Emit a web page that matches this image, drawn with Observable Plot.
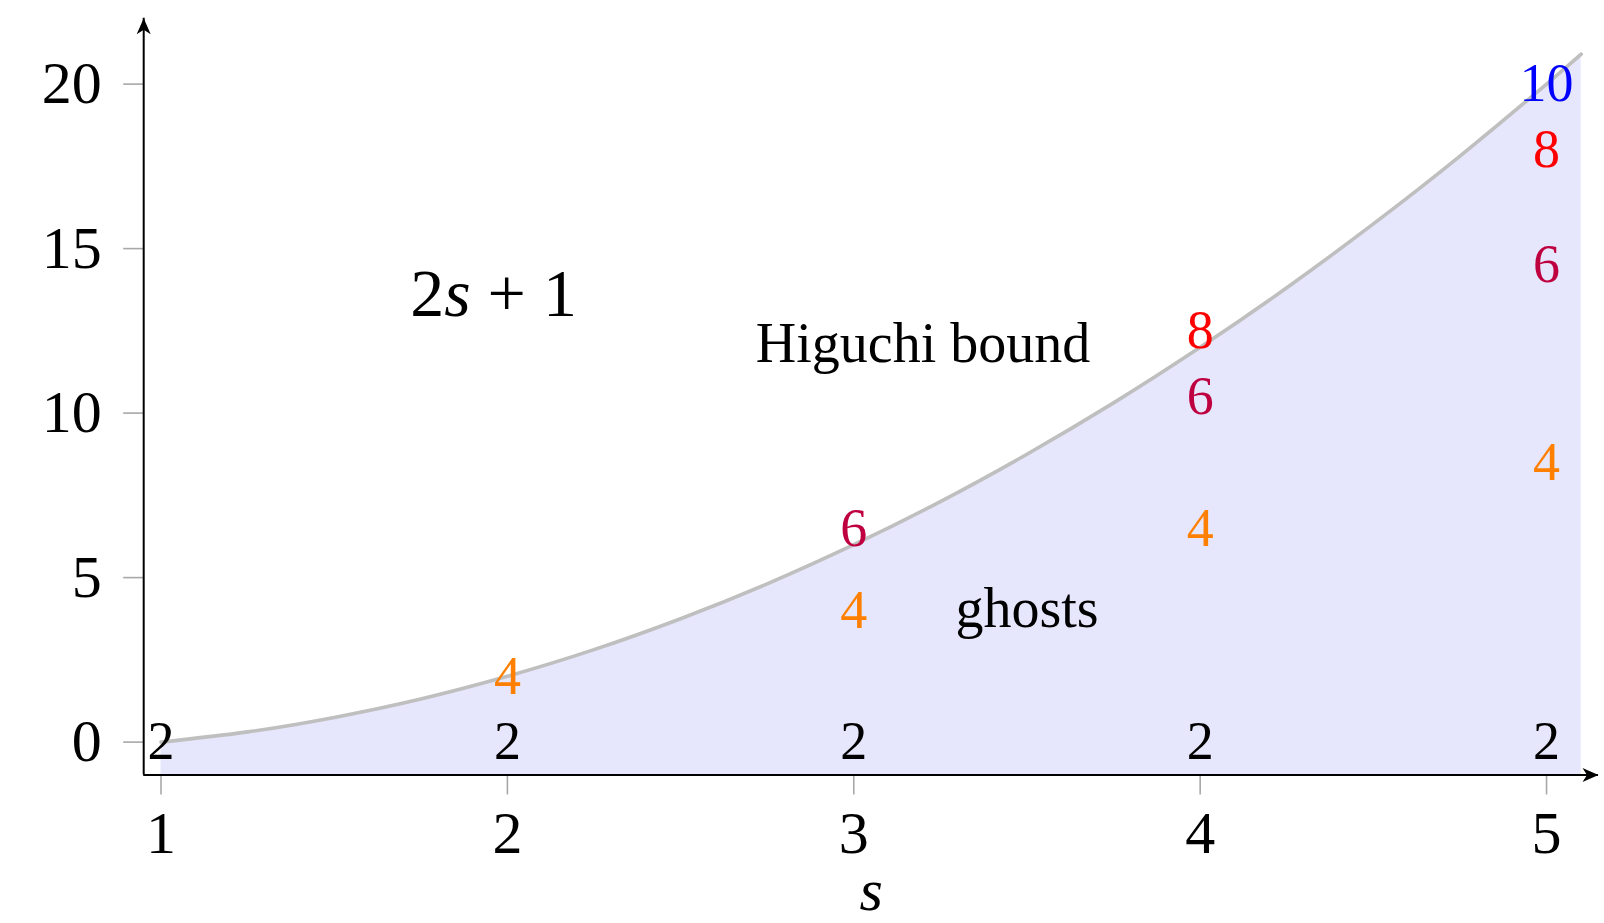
<!DOCTYPE html>
<html>
<head>
<meta charset="utf-8">
<script src="https://cdn.jsdelivr.net/npm/d3@7"></script>
<script src="https://cdn.jsdelivr.net/npm/@observablehq/plot@0.6"></script>
<style>
  html, body { margin: 0; padding: 0; background: white; overflow: hidden; }
  #chart svg { display: block; }
</style>
</head>
<body>
<div id="chart"></div>
<script>
// Axis extents (s from 0.95 to 5.15, mass from -1 to 22)
const xDomain = [0.95, 5.15];
const yDomain = [-1, 22];
const xTicks = [1, 2, 3, 4, 5];
const yTicks = [0, 5, 10, 15, 20];

// Higuchi bound curve, sampled along s
const boundS = [1, 1.25, 1.5, 1.75, 2, 2.25, 2.5, 2.75, 3, 3.25, 3.5, 3.75, 4, 4.25, 4.5, 4.75, 5, 5.1];
const boundV = [0, 0.31, 0.75, 1.31, 2, 2.81, 3.75, 4.81, 6, 7.31, 8.75, 10.31, 12, 13.81, 15.75, 17.81, 20, 20.91];

// Degree-of-freedom counts placed at each spin s
const countS = [1, 2, 3, 4, 5, 2, 3, 3, 4, 4, 4, 5, 5, 5, 5];
const countY = [0, 0, 0, 0, 0, 2, 6.5, 4, 12.5, 10.5, 6.5, 20, 18, 14.5, 8.5];
const countText = ["2", "2", "2", "2", "2", "4", "6", "4", "8", "6", "4", "10", "8", "6", "4"];
const countValues = ["2", "4", "6", "8", "10"];
const countColors = ["#000000", "#ff8000", "#bf0040", "#ff0000", "#0000ff"];

// Text annotations
const noteText = ["Higuchi bound", "ghosts"];
const noteS = [3.2, 3.5];
const noteY = [12.1, 4.05];
const formulaText = "2s + 1";
const formulaS = 1.96;
const formulaY = 13.6;

const bound = boundS.map((s, i) => ({s, v: boundV[i]}));
const counts = countS.map((s, i) => ({
  s, y: countY[i], label: countText[i],
  color: countColors[countValues.indexOf(countText[i])]
}));
const notes = noteText.map((t, i) => ({s: noteS[i], y: noteY[i], t}));

// Filled "stealth" arrowhead with its tip at the origin, pointing up
const stealth = {
  draw(context) {
    context.moveTo(0, 0);
    context.lineTo(7, 16);
    context.lineTo(0, 11.5);
    context.lineTo(-7, 16);
    context.closePath();
  }
};

const serif = "'Liberation Serif', 'Times New Roman', serif";

const chart = Plot.plot({
  width: 1604,
  height: 923,
  marginLeft: 143.2,
  marginRight: 6,
  marginTop: 17.8,
  marginBottom: 148.5,
  x: {domain: xDomain, label: null},
  y: {domain: yDomain, label: null},
  color: {type: "identity"},
  style: {fontFamily: serif, fontSize: "60px", background: "white", overflow: "visible"},
  marks: [
    Plot.areaY(bound, {x: "s", y1: yDomain[0], y2: "v", fill: "#e6e6fc", curve: "natural"}),
    Plot.line(bound, {x: "s", y: "v", stroke: "#bfbfbf", strokeWidth: 3.6, curve: "natural"}),
    Plot.axisX({ticks: xTicks, tickSize: 20, tickPadding: 15, stroke: "#a8a8a8", strokeWidth: 1.6,
                fill: "black", label: null, fontSize: 60, tickFormat: d => String(d)}),
    Plot.axisY({ticks: yTicks, tickSize: 20, tickPadding: 22, stroke: "#a8a8a8", strokeWidth: 1.6,
                fill: "black", label: null, fontSize: 60, tickFormat: d => String(d)}),
    Plot.ruleX([xDomain[0]], {stroke: "black", strokeWidth: 2}),
    Plot.ruleY([yDomain[0]], {stroke: "black", strokeWidth: 2}),
    Plot.dot([[xDomain[0], yDomain[1]]], {x: d => d[0], y: d => d[1], symbol: stealth, fill: "black", stroke: "none", r: 5}),
    Plot.dot([[xDomain[1], yDomain[0]]], {x: d => d[0], y: d => d[1], symbol: stealth, fill: "black", stroke: "none", r: 5, rotate: 90}),
    Plot.text(counts, {x: "s", y: "y", text: "label", fill: "color", fontSize: 54, lineAnchor: "middle"}),
    Plot.text(notes, {x: "s", y: "y", text: "t", fill: "black", fontSize: 56, lineAnchor: "middle"}),
    Plot.text([formulaText], {x: () => formulaS, y: () => formulaY, text: d => d, fill: "black", fontSize: 68, lineAnchor: "middle"}),
    Plot.text(["s"], {frameAnchor: "bottom", lineAnchor: "bottom", dy: 135, fill: "black", fontSize: 60, fontStyle: "italic"})
  ]
});

// Set the formula with an italic variable
d3.select(chart).selectAll("text").each(function () {
  if (this.textContent === formulaText) {
    const t = d3.select(this);
    t.text(null);
    t.append("tspan").text("2");
    t.append("tspan").attr("font-style", "italic").text("s");
    t.append("tspan").text(" + 1");
  }
});

document.getElementById("chart").appendChild(chart);
</script>
</body>
</html>
